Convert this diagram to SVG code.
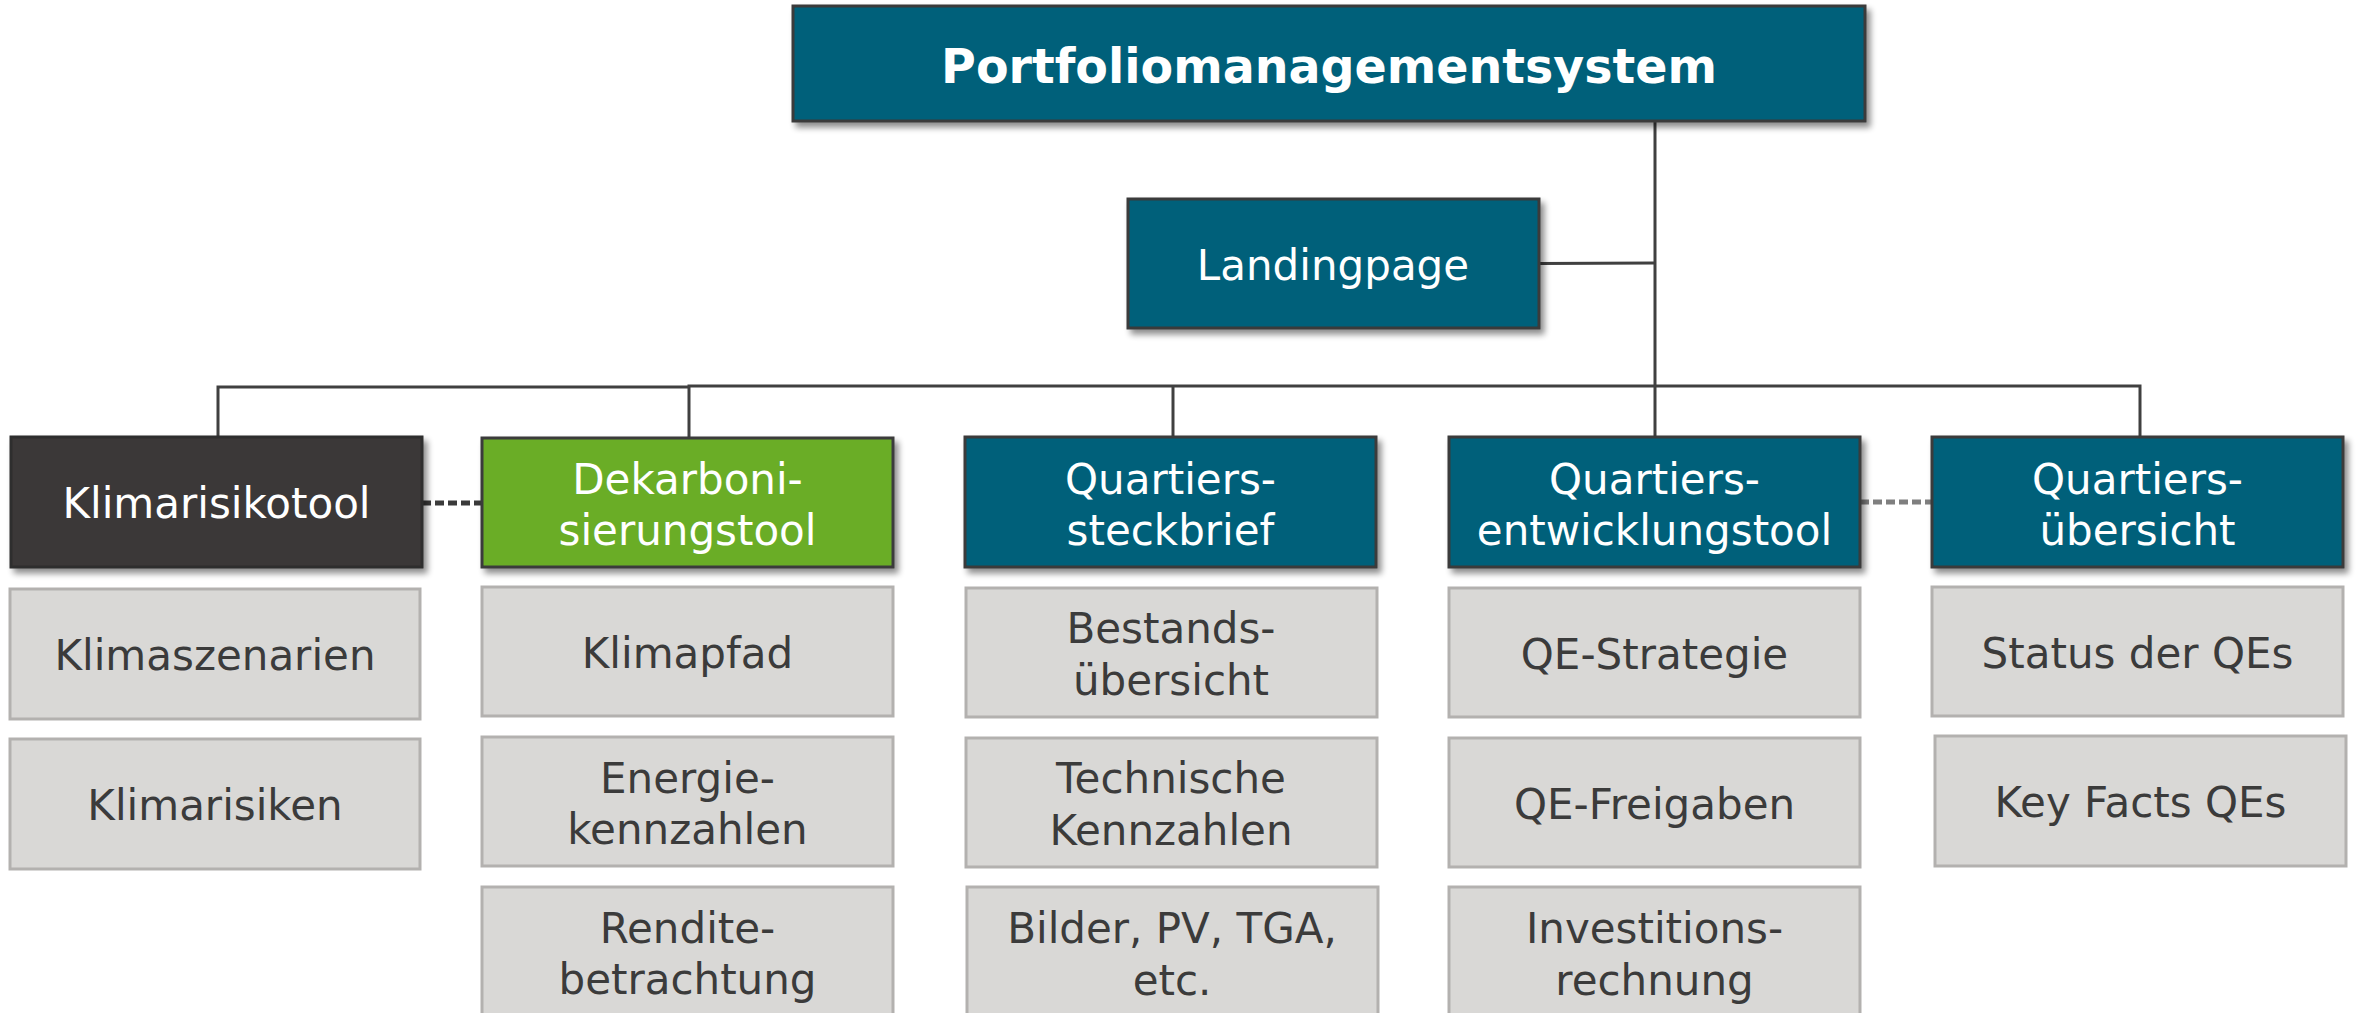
<svg xmlns="http://www.w3.org/2000/svg" width="2356" height="1013" viewBox="0 0 2356 1013">
<defs>
<filter id="sh" x="-5%" y="-10%" width="115%" height="130%">
<feGaussianBlur in="SourceAlpha" stdDeviation="3"/>
<feOffset dx="4" dy="5" result="b"/>
<feComponentTransfer><feFuncA type="linear" slope="0.45"/></feComponentTransfer>
<feMerge><feMergeNode/><feMergeNode in="SourceGraphic"/></feMerge>
</filter>
</defs>
<style>
.teal{fill:#02607a;stroke:#3a3a3a;stroke-width:3}
.dark{fill:#3a3937;stroke:#2e2e2e;stroke-width:3}
.green{fill:#6aad26;stroke:#3a3a3a;stroke-width:3}
.gray{fill:#d9d8d6;stroke:#b3b1af;stroke-width:3}
text{font-family:"DejaVu Sans","Verdana",sans-serif;font-size:42px;text-anchor:middle}
.w{fill:#ffffff}
.d{fill:#3b3b3b}
.title{font-size:47.5px;font-weight:bold}
.ln{fill:none;stroke:#404040;stroke-width:3}
</style>
<g id="connectors">
<line class="ln" x1="1655" y1="121" x2="1655" y2="437"/>
<line class="ln" x1="1539" y1="263.5" x2="1655" y2="263"/>
<polyline class="ln" points="218,437 218,387 689,387"/>
<polyline class="ln" points="689,437 689,386 2140,386 2140,437"/>
<line class="ln" x1="1173" y1="386" x2="1173" y2="437"/>
<line x1="422" y1="503" x2="482" y2="503" stroke="#3a3a3a" stroke-width="5" stroke-dasharray="9,4"/>
<line x1="1860" y1="502" x2="1932" y2="502" stroke="#7f7f7f" stroke-width="5" stroke-dasharray="9,4"/>
</g>
<g id="portfoliomanagementsystem">
<rect class="teal" filter="url(#sh)" x="793" y="6" width="1072" height="115"/>
<text class="w title" x="1329" y="83">Portfoliomanagementsystem</text>
</g>
<g id="landingpage">
<rect class="teal" filter="url(#sh)" x="1128" y="199" width="411" height="129"/>
<text class="w" x="1333" y="280">Landingpage</text>
</g>
<g id="klimarisikotool">
<rect class="dark" filter="url(#sh)" x="11" y="437" width="411" height="130"/>
<text class="w" x="216.5" y="518">Klimarisikotool</text>
</g>
<g id="dekarbonisierungstool">
<rect class="green" filter="url(#sh)" x="482" y="438" width="411" height="129"/>
<text class="w" x="687.5" y="494">Dekarboni-</text>
<text class="w" x="687.5" y="545">sierungstool</text>
</g>
<g id="quartierssteckbrief">
<rect class="teal" filter="url(#sh)" x="965" y="437" width="411" height="130"/>
<text class="w" x="1170.5" y="494">Quartiers-</text>
<text class="w" x="1170.5" y="545">steckbrief</text>
</g>
<g id="quartiersentwicklungstool">
<rect class="teal" filter="url(#sh)" x="1449" y="437" width="411" height="130"/>
<text class="w" x="1654.5" y="494">Quartiers-</text>
<text class="w" x="1654.5" y="545">entwicklungstool</text>
</g>
<g id="quartiersuebersicht">
<rect class="teal" filter="url(#sh)" x="1932" y="437" width="411" height="130"/>
<text class="w" x="2137.5" y="494">Quartiers-</text>
<text class="w" x="2137.5" y="545">übersicht</text>
</g>
<g id="klimaszenarien">
<rect class="gray" x="10" y="589" width="410" height="130"/>
<text class="d" x="215" y="670">Klimaszenarien</text>
</g>
<g id="klimarisiken">
<rect class="gray" x="10" y="739" width="410" height="130"/>
<text class="d" x="215" y="820">Klimarisiken</text>
</g>
<g id="klimapfad">
<rect class="gray" x="482" y="587" width="411" height="129"/>
<text class="d" x="687.5" y="668">Klimapfad</text>
</g>
<g id="energiekennzahlen">
<rect class="gray" x="482" y="737" width="411" height="129"/>
<text class="d" x="687.5" y="793">Energie-</text>
<text class="d" x="687.5" y="844">kennzahlen</text>
</g>
<g id="renditebetrachtung">
<rect class="gray" x="482" y="887" width="411" height="132"/>
<text class="d" x="687.5" y="943">Rendite-</text>
<text class="d" x="687.5" y="994">betrachtung</text>
</g>
<g id="bestandsuebersicht">
<rect class="gray" x="966" y="588" width="411" height="129"/>
<text class="d" x="1171" y="643">Bestands-</text>
<text class="d" x="1171" y="695">übersicht</text>
</g>
<g id="technischekennzahlen">
<rect class="gray" x="966" y="738" width="411" height="129"/>
<text class="d" x="1171" y="793">Technische</text>
<text class="d" x="1171" y="845">Kennzahlen</text>
</g>
<g id="bilder">
<rect class="gray" x="967" y="887" width="411" height="132"/>
<text class="d" x="1172" y="943">Bilder, PV, TGA,</text>
<text class="d" x="1172" y="995">etc.</text>
</g>
<g id="qestrategie">
<rect class="gray" x="1449" y="588" width="411" height="129"/>
<text class="d" x="1654.5" y="669">QE-Strategie</text>
</g>
<g id="qefreigaben">
<rect class="gray" x="1449" y="738" width="411" height="129"/>
<text class="d" x="1654.5" y="819">QE-Freigaben</text>
</g>
<g id="investitionsrechnung">
<rect class="gray" x="1449" y="887" width="411" height="132"/>
<text class="d" x="1654.5" y="943">Investitions-</text>
<text class="d" x="1654.5" y="995">rechnung</text>
</g>
<g id="statusderqes">
<rect class="gray" x="1932" y="587" width="411" height="129"/>
<text class="d" x="2137.5" y="668">Status der QEs</text>
</g>
<g id="keyfactsqes">
<rect class="gray" x="1935" y="736" width="411" height="130"/>
<text class="d" x="2140.5" y="817">Key Facts QEs</text>
</g>
</svg>
